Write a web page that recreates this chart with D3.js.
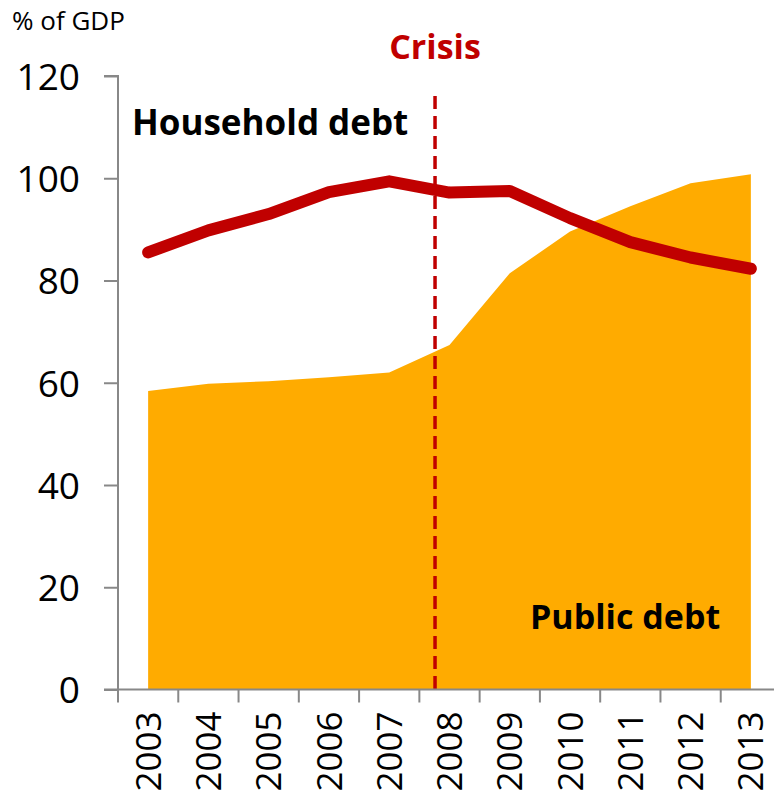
<!DOCTYPE html>
<html>
<head>
<meta charset="utf-8">
<script src="https://cdn.jsdelivr.net/npm/d3@7"></script>
<style>
  html, body { margin: 0; padding: 0; background: #fff; }
  svg { display: block; }
  text { font-family: "Open Sans", "Liberation Sans", sans-serif; }
</style>
</head>
<body>
<svg id="chart" width="774" height="797"></svg>
<script>
// Debt ratios, % of GDP
const years = ["2003", "2004", "2005", "2006", "2007", "2008", "2009", "2010", "2011", "2012", "2013"];
const householdDebt = [85.5, 89.8, 93.0, 97.3, 99.4, 97.2, 97.5, 92.2, 87.5, 84.5, 82.3];
const publicDebt = [58.4, 59.8, 60.3, 61.1, 62.0, 67.4, 81.4, 89.6, 94.5, 99.0, 100.8];
const yTicks = [0, 20, 40, 60, 80, 100, 120];
const crisisYear = 2007.76;

const svg = d3.select("#chart");
const margin = { left: 118, right: -7, top: 76, bottom: 107 };
const W = 774, H = 797;

const x = d3.scaleBand()
  .domain(years)
  .range([margin.left, W - margin.right])
  .paddingInner(0).paddingOuter(0);
const cx = d => x(d) + x.bandwidth() / 2;
const xYear = d3.scaleLinear()
  .domain([+years[0], +years[years.length - 1]])
  .range([cx(years[0]), cx(years[years.length - 1])]);

const y = d3.scaleLinear().domain([0, 120]).range([H - margin.bottom - 0.5, margin.top]);

const axisColor = "#888888";

// Public debt area
const area = d3.area()
  .x((d, i) => cx(years[i]))
  .y0(y(0))
  .y1(d => y(d));
svg.append("path")
  .datum(publicDebt)
  .attr("d", area)
  .attr("fill", "#FFAB00");

// Crisis marker
svg.append("line")
  .attr("x1", xYear(crisisYear)).attr("x2", xYear(crisisYear))
  .attr("y1", 96).attr("y2", y(0))
  .attr("stroke", "#C00000")
  .attr("stroke-width", 3.5)
  .attr("stroke-dasharray", "13,7");

// Household debt line
const line = d3.line()
  .x((d, i) => cx(years[i]))
  .y(d => y(d));
svg.append("path")
  .datum(householdDebt)
  .attr("d", line)
  .attr("fill", "none")
  .attr("stroke", "#C00000")
  .attr("stroke-width", 12)
  .attr("stroke-linecap", "round")
  .attr("stroke-linejoin", "round");

// Y axis
const yAxis = svg.append("g")
  .attr("transform", `translate(${margin.left},0)`)
  .call(d3.axisLeft(y).tickValues(yTicks).tickSize(14).tickPadding(24));
yAxis.select(".domain").attr("stroke", axisColor).attr("stroke-width", 2)
  .attr("d", `M-14,${y(120)}H0V${y(0)}`);
yAxis.selectAll(".tick line").attr("stroke", axisColor).attr("stroke-width", 2);
yAxis.selectAll(".tick text")
  .attr("fill", "#000")
  .style("font-size", "37px")
  .attr("dy", "0.36em");

// X axis: ticks at category boundaries
const xAxisG = svg.append("g").attr("transform", `translate(0,${y(0)})`);
xAxisG.append("line")
  .attr("x1", margin.left - 14).attr("x2", W)
  .attr("stroke", axisColor).attr("stroke-width", 2);
const boundaries = years.map(d => x(d));
xAxisG.selectAll(".xtick").data(boundaries).join("line")
  .attr("class", "xtick")
  .attr("x1", d => d).attr("x2", d => d)
  .attr("y1", 0).attr("y2", 13)
  .attr("stroke", axisColor).attr("stroke-width", 2);
xAxisG.selectAll(".xlabel").data(years).join("text")
  .attr("class", "xlabel")
  .attr("transform", d => `translate(${cx(d)},22) rotate(-90)`)
  .attr("text-anchor", "end")
  .attr("dy", "0.36em")
  .style("font-size", "35px")
  .attr("fill", "#000")
  .text(d => d);

// Titles and series labels
svg.append("text")
  .attr("x", 12).attr("y", 30)
  .style("font-size", "26px")
  .attr("fill", "#000")
  .text("% of GDP");

svg.append("text")
  .attr("x", xYear(crisisYear)).attr("y", 59)
  .attr("text-anchor", "middle")
  .style("font-size", "34px").style("font-weight", "bold")
  .attr("fill", "#C00000")
  .text("Crisis");

svg.append("text")
  .attr("x", 132).attr("y", 135)
  .style("font-size", "35px").style("font-weight", "bold")
  .attr("fill", "#000")
  .text("Household debt");

svg.append("text")
  .attr("x", 530).attr("y", 629)
  .style("font-size", "34px").style("font-weight", "bold")
  .attr("fill", "#000")
  .text("Public debt");
</script>
</body>
</html>
